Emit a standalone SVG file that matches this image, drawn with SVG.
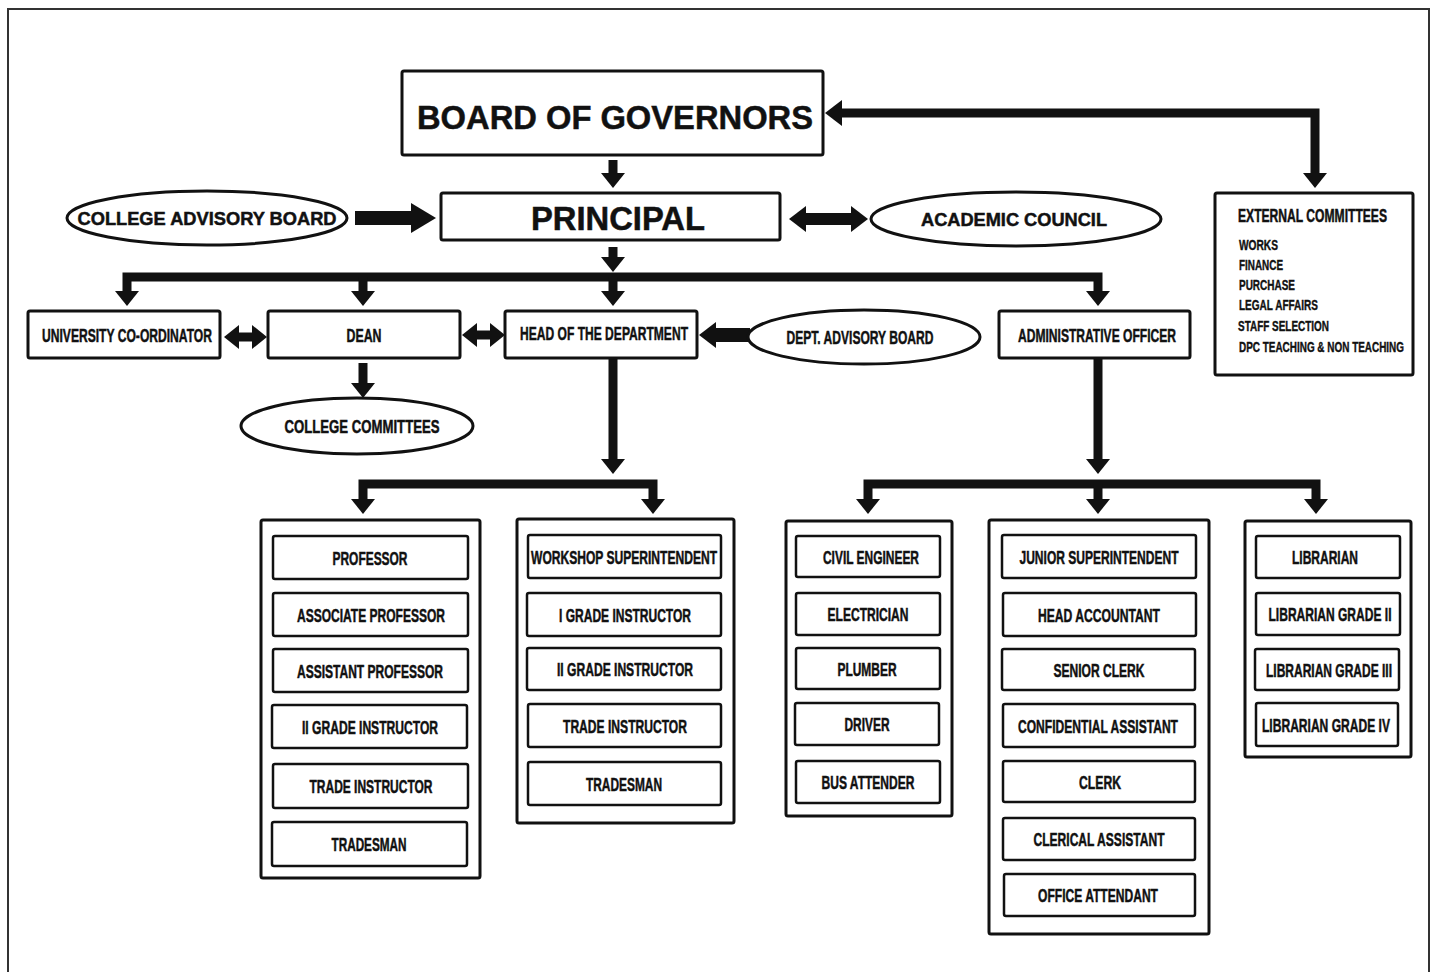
<svg xmlns="http://www.w3.org/2000/svg" width="1436" height="972" viewBox="0 0 1436 972">
<style>
.bg{fill:#fff}
.frame{fill:none;stroke:#333;stroke-width:2}
.box{fill:#fff;stroke:#111;stroke-width:3}
.item{fill:#fff;stroke:#111;stroke-width:2.5}
.ell{fill:#fff;stroke:#111;stroke-width:3}
text{font-family:"Liberation Sans",Arial,sans-serif;font-weight:bold;fill:#111;text-anchor:middle;stroke:#111;stroke-width:0.5}
.t{font-size:19px}
.s{font-size:15px;text-anchor:start;stroke-width:0.4}
.c{fill:none;stroke:#111;stroke-linecap:butt;stroke-linejoin:miter}
.w9{stroke-width:9}
.w12{stroke-width:12}
.w14{stroke-width:14}
</style>
<defs>
<marker id="a" markerUnits="userSpaceOnUse" markerWidth="15" markerHeight="24" refX="1" refY="12" orient="auto-start-reverse"><path d="M0,0 L15,12 L0,24 Z" fill="#111"/></marker>
<marker id="b" markerUnits="userSpaceOnUse" markerWidth="17" markerHeight="26" refX="1" refY="13" orient="auto-start-reverse"><path d="M0,0 L17,13 L0,26 Z" fill="#111"/></marker>
<marker id="c" markerUnits="userSpaceOnUse" markerWidth="25" markerHeight="30" refX="1" refY="15" orient="auto-start-reverse"><path d="M0,0 L25,15 L0,30 Z" fill="#111"/></marker>
</defs>
<rect class="bg" x="0" y="0" width="1436" height="972"/>
<rect class="frame" x="8" y="9" width="1421" height="975"/>

<g id="connectors">
<path class="c w9" d="M613,160 V174" marker-end="url(#a)"/>
<path class="c w14" d="M355,218 H412" marker-end="url(#c)"/>
<path class="c w12" d="M805,219 H852" marker-start="url(#b)" marker-end="url(#b)"/>
<path class="c w9" d="M1315,174 V113 H841" marker-start="url(#a)" marker-end="url(#b)"/>
<path class="c w9" d="M613,247 V258" marker-end="url(#a)"/>
<path class="c w9" d="M127,292 V277 H1098 V292" marker-start="url(#a)" marker-end="url(#a)"/>
<path class="c w9" d="M363,277 V292" marker-end="url(#a)"/>
<path class="c w9" d="M613,277 V292" marker-end="url(#a)"/>
<path class="c w9" d="M238,337 H253" marker-start="url(#a)" marker-end="url(#a)"/>
<path class="c w9" d="M476,335 H491" marker-start="url(#a)" marker-end="url(#a)"/>
<path class="c w14" d="M750,335 H715" marker-end="url(#b)"/>
<path class="c w9" d="M363,363 V384" marker-end="url(#a)"/>
<path class="c w9" d="M613,358 V460" marker-end="url(#a)"/>
<path class="c w9" d="M363,500 V484 H653 V500" marker-start="url(#a)" marker-end="url(#a)"/>
<path class="c w9" d="M1098,358 V460" marker-end="url(#a)"/>
<path class="c w9" d="M868,500 V484 H1316 V500" marker-start="url(#a)" marker-end="url(#a)"/>
<path class="c w9" d="M1098,484 V500" marker-end="url(#a)"/>
</g>

<g id="board-of-governors">
<rect class="box" x="402" y="71" width="421" height="84" rx="2"/>
<text x="615" y="129" font-size="34" textLength="396" lengthAdjust="spacingAndGlyphs">BOARD OF GOVERNORS</text>
</g>
<g id="principal">
<rect class="box" x="441" y="193" width="339" height="47" rx="2"/>
<text x="618" y="230" font-size="33" textLength="174" lengthAdjust="spacingAndGlyphs">PRINCIPAL</text>
</g>
<g id="college-advisory-board">
<ellipse class="ell" cx="207" cy="218" rx="140" ry="27"/>
<text class="t" x="207" y="225" textLength="259" lengthAdjust="spacingAndGlyphs">COLLEGE ADVISORY BOARD</text>
</g>
<g id="academic-council">
<ellipse class="ell" cx="1016" cy="219" rx="145" ry="27"/>
<text class="t" x="1014" y="226" textLength="186" lengthAdjust="spacingAndGlyphs">ACADEMIC COUNCIL</text>
</g>
<g id="external-committees">
<rect class="box" x="1215" y="193" width="198" height="182" rx="2"/>
<text x="1238" y="222" font-size="18" style="text-anchor:start" textLength="149" lengthAdjust="spacingAndGlyphs">EXTERNAL COMMITTEES</text>
<text class="s" x="1239" y="250" textLength="39" lengthAdjust="spacingAndGlyphs">WORKS</text>
<text class="s" x="1239" y="270" textLength="44" lengthAdjust="spacingAndGlyphs">FINANCE</text>
<text class="s" x="1239" y="290" textLength="56" lengthAdjust="spacingAndGlyphs">PURCHASE</text>
<text class="s" x="1239" y="310" textLength="79" lengthAdjust="spacingAndGlyphs">LEGAL AFFAIRS</text>
<text class="s" x="1238" y="331" textLength="91" lengthAdjust="spacingAndGlyphs">STAFF SELECTION</text>
<text class="s" x="1239" y="352" textLength="165" lengthAdjust="spacingAndGlyphs">DPC TEACHING &amp; NON TEACHING</text>
</g>

<g id="university-coordinator">
<rect class="box" x="28" y="311" width="192" height="47" rx="2"/>
<text class="t" x="127" y="342" textLength="170" lengthAdjust="spacingAndGlyphs">UNIVERSITY CO-ORDINATOR</text>
</g>
<g id="dean">
<rect class="box" x="268" y="311" width="192" height="47" rx="2"/>
<text class="t" x="364" y="342" textLength="35" lengthAdjust="spacingAndGlyphs">DEAN</text>
</g>
<g id="head-of-department">
<rect class="box" x="505" y="311" width="192" height="47" rx="2"/>
<text class="t" x="604" y="340" textLength="168" lengthAdjust="spacingAndGlyphs">HEAD OF THE DEPARTMENT</text>
</g>
<g id="dept-advisory-board">
<ellipse class="ell" cx="864" cy="337" rx="116" ry="27"/>
<text class="t" x="860" y="344" textLength="147" lengthAdjust="spacingAndGlyphs">DEPT. ADVISORY BOARD</text>
</g>
<g id="administrative-officer">
<rect class="box" x="999" y="311" width="191" height="47" rx="2"/>
<text class="t" x="1097" y="342" textLength="158" lengthAdjust="spacingAndGlyphs">ADMINISTRATIVE OFFICER</text>
</g>
<g id="college-committees">
<ellipse class="ell" cx="357" cy="426" rx="116" ry="28"/>
<text class="t" x="362" y="433" textLength="155" lengthAdjust="spacingAndGlyphs">COLLEGE COMMITTEES</text>
</g>

<g id="teaching-staff">
<rect class="box" x="261" y="520" width="219" height="358" rx="2"/>
<rect class="item" x="273" y="536" width="195" height="43" rx="2"/>
<text class="t" x="370" y="565" textLength="75" lengthAdjust="spacingAndGlyphs">PROFESSOR</text>
<rect class="item" x="273" y="593" width="195" height="43" rx="2"/>
<text class="t" x="371" y="622" textLength="148" lengthAdjust="spacingAndGlyphs">ASSOCIATE PROFESSOR</text>
<rect class="item" x="273" y="649" width="195" height="43" rx="2"/>
<text class="t" x="370" y="678" textLength="146" lengthAdjust="spacingAndGlyphs">ASSISTANT PROFESSOR</text>
<rect class="item" x="272" y="705" width="195" height="43" rx="2"/>
<text class="t" x="370" y="734" textLength="136" lengthAdjust="spacingAndGlyphs">II GRADE INSTRUCTOR</text>
<rect class="item" x="273" y="764" width="195" height="44" rx="2"/>
<text class="t" x="371" y="793" textLength="123" lengthAdjust="spacingAndGlyphs">TRADE INSTRUCTOR</text>
<rect class="item" x="272" y="822" width="195" height="44" rx="2"/>
<text class="t" x="369" y="851" textLength="75" lengthAdjust="spacingAndGlyphs">TRADESMAN</text>
</g>

<g id="workshop-staff">
<rect class="box" x="517" y="519" width="217" height="304" rx="2"/>
<rect class="item" x="528" y="535" width="193" height="43" rx="2"/>
<text class="t" x="624" y="564" textLength="186" lengthAdjust="spacingAndGlyphs">WORKSHOP SUPERINTENDENT</text>
<rect class="item" x="527" y="593" width="194" height="43" rx="2"/>
<text class="t" x="625" y="622" textLength="132" lengthAdjust="spacingAndGlyphs">I GRADE INSTRUCTOR</text>
<rect class="item" x="527" y="648" width="194" height="42" rx="2"/>
<text class="t" x="625" y="676" textLength="136" lengthAdjust="spacingAndGlyphs">II GRADE INSTRUCTOR</text>
<rect class="item" x="528" y="704" width="193" height="43" rx="2"/>
<text class="t" x="625" y="733" textLength="124" lengthAdjust="spacingAndGlyphs">TRADE INSTRUCTOR</text>
<rect class="item" x="528" y="762" width="193" height="43" rx="2"/>
<text class="t" x="624" y="791" textLength="76" lengthAdjust="spacingAndGlyphs">TRADESMAN</text>
</g>

<g id="maintenance-staff">
<rect class="box" x="786" y="521" width="166" height="295" rx="2"/>
<rect class="item" x="796" y="536" width="144" height="41" rx="2"/>
<text class="t" x="871" y="564" textLength="96" lengthAdjust="spacingAndGlyphs">CIVIL ENGINEER</text>
<rect class="item" x="796" y="593" width="144" height="42" rx="2"/>
<text class="t" x="868" y="621" textLength="81" lengthAdjust="spacingAndGlyphs">ELECTRICIAN</text>
<rect class="item" x="796" y="648" width="144" height="41" rx="2"/>
<text class="t" x="867" y="676" textLength="59" lengthAdjust="spacingAndGlyphs">PLUMBER</text>
<rect class="item" x="795" y="703" width="144" height="42" rx="2"/>
<text class="t" x="867" y="731" textLength="45" lengthAdjust="spacingAndGlyphs">DRIVER</text>
<rect class="item" x="796" y="761" width="144" height="42" rx="2"/>
<text class="t" x="868" y="789" textLength="93" lengthAdjust="spacingAndGlyphs">BUS ATTENDER</text>
</g>

<g id="office-staff">
<rect class="box" x="989" y="520" width="220" height="414" rx="2"/>
<rect class="item" x="1002" y="535" width="194" height="43" rx="2"/>
<text class="t" x="1099" y="564" textLength="159" lengthAdjust="spacingAndGlyphs">JUNIOR SUPERINTENDENT</text>
<rect class="item" x="1003" y="593" width="193" height="43" rx="2"/>
<text class="t" x="1099" y="622" textLength="122" lengthAdjust="spacingAndGlyphs">HEAD ACCOUNTANT</text>
<rect class="item" x="1002" y="649" width="193" height="41" rx="2"/>
<text class="t" x="1099" y="677" textLength="91" lengthAdjust="spacingAndGlyphs">SENIOR CLERK</text>
<rect class="item" x="1003" y="704" width="192" height="43" rx="2"/>
<text class="t" x="1098" y="733" textLength="160" lengthAdjust="spacingAndGlyphs">CONFIDENTIAL ASSISTANT</text>
<rect class="item" x="1003" y="761" width="192" height="41" rx="2"/>
<text class="t" x="1100" y="789" textLength="42" lengthAdjust="spacingAndGlyphs">CLERK</text>
<rect class="item" x="1003" y="818" width="192" height="42" rx="2"/>
<text class="t" x="1099" y="846" textLength="131" lengthAdjust="spacingAndGlyphs">CLERICAL ASSISTANT</text>
<rect class="item" x="1004" y="874" width="191" height="42" rx="2"/>
<text class="t" x="1098" y="902" textLength="120" lengthAdjust="spacingAndGlyphs">OFFICE ATTENDANT</text>
</g>

<g id="library-staff">
<rect class="box" x="1245" y="521" width="166" height="236" rx="2"/>
<rect class="item" x="1256" y="536" width="144" height="42" rx="2"/>
<text class="t" x="1325" y="564" textLength="66" lengthAdjust="spacingAndGlyphs">LIBRARIAN</text>
<rect class="item" x="1256" y="593" width="144" height="42" rx="2"/>
<text class="t" x="1330" y="621" textLength="123" lengthAdjust="spacingAndGlyphs">LIBRARIAN GRADE II</text>
<rect class="item" x="1255" y="649" width="144" height="41" rx="2"/>
<text class="t" x="1329" y="677" textLength="126" lengthAdjust="spacingAndGlyphs">LIBRARIAN GRADE III</text>
<rect class="item" x="1256" y="703" width="142" height="43" rx="2"/>
<text class="t" x="1326" y="732" textLength="128" lengthAdjust="spacingAndGlyphs">LIBRARIAN GRADE IV</text>
</g>
</svg>
